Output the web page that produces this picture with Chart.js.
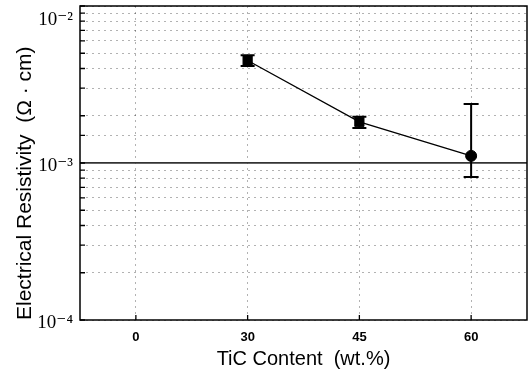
<!DOCTYPE html>
<html>
<head>
<meta charset="utf-8">
<script src="https://cdn.jsdelivr.net/npm/chart.js@4/dist/chart.umd.min.js"></script>
<style>
  html, body { margin: 0; padding: 0; background: #fff; }
  #wrap { width: 529px; height: 372px; }
</style>
</head>
<body>
<div id="wrap"><canvas id="chart" width="529" height="372"></canvas></div>
<script>
const tiContent = ["0", "30", "45", "60"];
const resistivity = [null, 4.5e-3, 1.83e-3, 1.11e-3];
const errLow = [null, 4.15e-3, 1.67e-3, 8.15e-4];
const errHigh = [null, 4.85e-3, 1.97e-3, 2.38e-3];
const markerStyle = ["circle", "rect", "rect", "circle"];
const markerSize = [0, 6.5, 6.5, 5.5];
const capHalf = [0, 7, 7, 7.5];
const yTickValues = [1e-4, 1e-3, 1e-2];
const yTickLabels = ["10\u207B\u2074", "10\u207B\u00B3", "10\u207B\u00B2"];

const isDecade = (v) => Math.abs(Math.log10(v) - Math.round(Math.log10(v))) < 1e-6;
const isMid = (c) => c.tick && Math.abs(Math.log10(c.tick.value) + 3) < 1e-6;

// white page, error bars, frame and inward ticks
const extras = {
  id: "extras",
  beforeDraw(chart) {
    const ctx = chart.ctx;
    ctx.save();
    ctx.fillStyle = "#fff";
    ctx.fillRect(0, 0, chart.width, chart.height);
    ctx.restore();
  },
  afterDatasetsDraw(chart) {
    const ctx = chart.ctx;
    const x = chart.scales.x;
    const y = chart.scales.y;
    ctx.save();
    ctx.strokeStyle = "#000";
    ctx.lineWidth = 2;
    for (let i = 0; i < tiContent.length; i++) {
      if (resistivity[i] == null) continue;
      const px = x.getPixelForValue(i);
      const top = y.getPixelForValue(errHigh[i]);
      const bot = y.getPixelForValue(errLow[i]);
      ctx.beginPath();
      ctx.moveTo(px, top);
      ctx.lineTo(px, bot);
      ctx.moveTo(px - capHalf[i], top);
      ctx.lineTo(px + capHalf[i], top);
      ctx.moveTo(px - capHalf[i], bot);
      ctx.lineTo(px + capHalf[i], bot);
      ctx.stroke();
    }
    ctx.restore();
  },
  afterDraw(chart) {
    const ctx = chart.ctx;
    const a = chart.chartArea;
    const x = chart.scales.x;
    const y = chart.scales.y;
    ctx.save();
    ctx.strokeStyle = "#000";
    ctx.lineWidth = 1.5;
    ctx.strokeRect(a.left, a.top, a.right - a.left, a.bottom - a.top);
    ctx.lineWidth = 1.3;
    ctx.beginPath();
    y.ticks.forEach((t, i) => {
      const py = y.getPixelForTick(i);
      ctx.moveTo(a.left, py);
      ctx.lineTo(a.left + 5, py);
    });
    x.ticks.forEach((t, i) => {
      const px = x.getPixelForTick(i);
      ctx.moveTo(px, a.bottom);
      ctx.lineTo(px, a.bottom - 5);
    });
    ctx.stroke();
    ctx.restore();
  }
};

new Chart(document.getElementById("chart"), {
  type: "line",
  data: {
    labels: tiContent,
    datasets: [{
      data: resistivity,
      borderColor: "#000",
      borderWidth: 1.3,
      backgroundColor: "#000",
      pointBackgroundColor: "#000",
      pointBorderColor: "#000",
      pointStyle: markerStyle,
      pointRadius: markerSize,
      pointBorderWidth: 1,
      spanGaps: false
    }]
  },
  options: {
    responsive: false,
    animation: false,
    layout: { autoPadding: false, padding: { top: 6, right: 2, left: 0, bottom: 0 } },
    plugins: {
      legend: { display: false },
      tooltip: { enabled: false }
    },
    scales: {
      x: {
        type: "category",
        offset: true,
        afterFit: (s) => {
          s.height = 52;
          s.paddingLeft = 0;
          s.paddingRight = 0;
        },
        grid: {
          offset: false,
          drawTicks: false,
          color: "rgba(0,0,0,0.3)",
          lineWidth: 1
        },
        border: { display: false, dash: [2, 4] },
        ticks: {
          color: "#000",
          padding: 10,
          font: { family: "Liberation Sans, Arial, sans-serif", size: 13, weight: "bold" }
        },
        title: {
          display: true,
          text: "TiC Content  (wt.%)",
          color: "#000",
          padding: { top: 0, bottom: 1 },
          font: { family: "Liberation Sans, Arial, sans-serif", size: 20 }
        }
      },
      y: {
        type: "logarithmic",
        min: 1e-4,
        max: 1e-2,
        afterFit: (s) => {
          s.width = 80;
          s.paddingTop = 0;
          s.paddingBottom = 0;
        },
        grid: {
          drawTicks: false,
          color: (c) => isMid(c) ? "#333" : "rgba(0,0,0,0.3)",
          lineWidth: (c) => isMid(c) ? 1.8 : 1
        },
        border: {
          display: false,
          dash: (c) => isMid(c) ? [] : [2, 4]
        },
        ticks: {
          autoSkip: false,
          color: "#000",
          padding: 7,
          labelOffset: 3,
          font: { family: "Liberation Serif, DejaVu Serif, serif", size: 19 },
          callback: (v) => {
            if (!isDecade(v)) return "";
            const i = yTickValues.findIndex((t) => Math.abs(Math.log10(t) - Math.log10(v)) < 1e-6);
            if (i < 0) return "";
            // top label sits just below the frame, as in the original
            return i === yTickValues.length - 1 ? ["", yTickLabels[i]] : yTickLabels[i];
          }
        },
        title: {
          display: true,
          align: "start",
          text: "Electrical Resistivity  (\u03A9 \u00B7 cm)",
          color: "#000",
          padding: { top: 13, bottom: 0 },
          font: { family: "Liberation Sans, Arial, sans-serif", size: 21 }
        }
      }
    }
  },
  plugins: [extras]
});
</script>
</body>
</html>
